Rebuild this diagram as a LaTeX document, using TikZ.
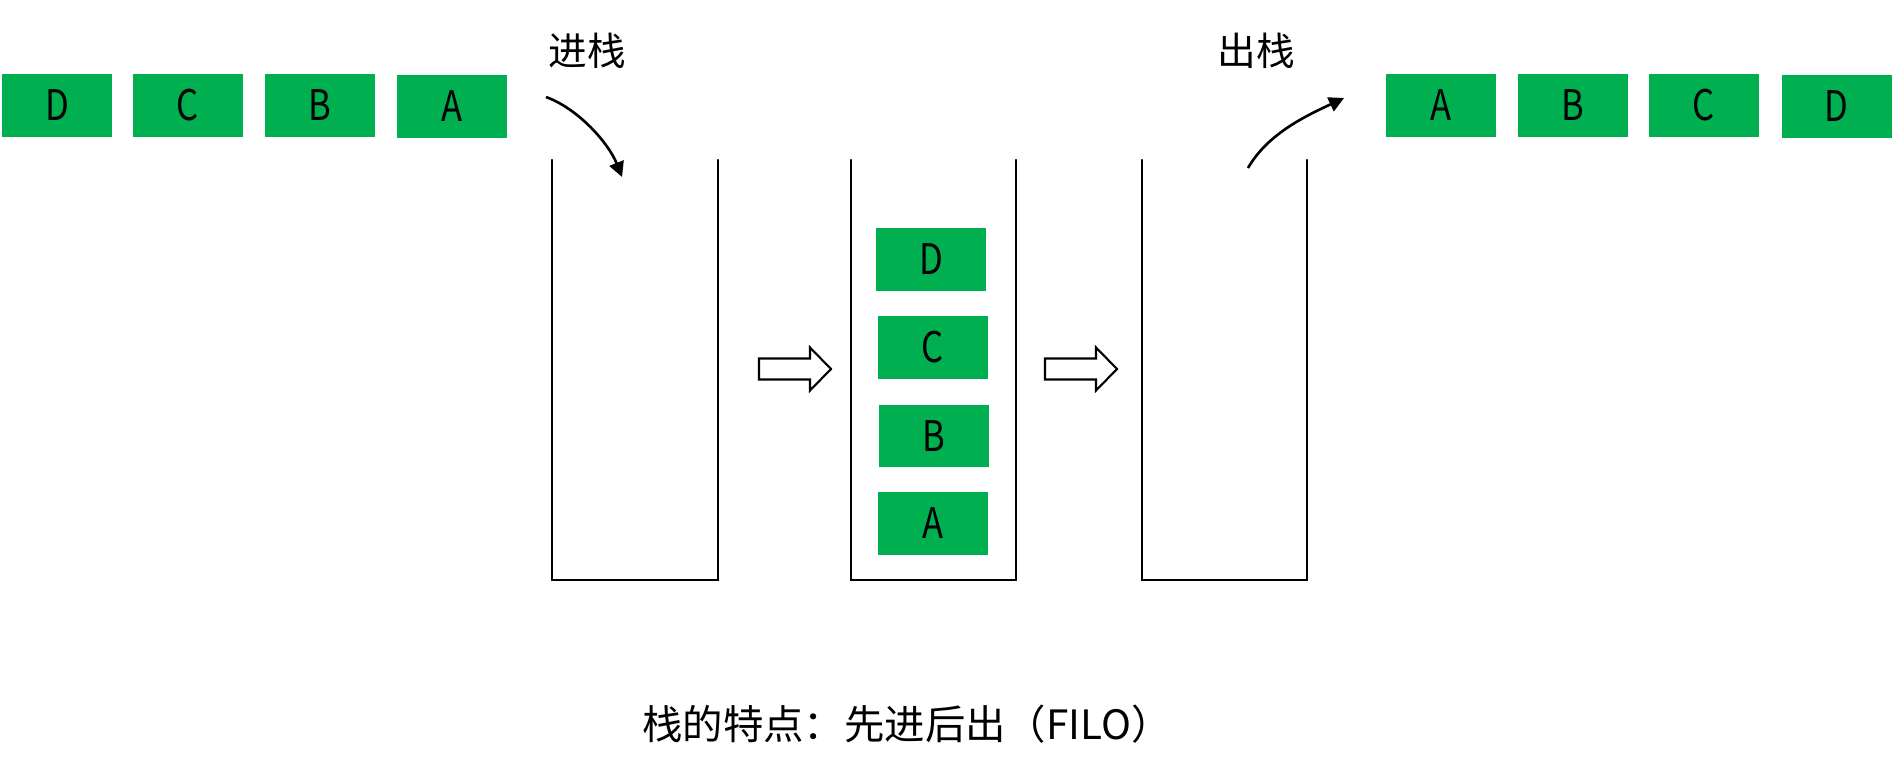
\documentclass[tikz,border=0pt]{standalone}
\usepackage{fontspec}
\setmainfont{Noto Sans CJK SC}
\newfontfamily\letterfont[FakeStretch=0.82]{Noto Sans CJK SC}
\usepackage{tikz}
\usetikzlibrary{arrows.meta}
\definecolor{stackgreen}{RGB}{0,176,80}
\tikzset{
    elem/.style={shape=rectangle, fill=stackgreen, minimum width=2.2cm, minimum height=1.26cm, inner sep=0pt, font=\letterfont\fontsize{24}{28}\selectfont},
    tag/.style={inner sep=0pt, font=\fontsize{22}{26}\selectfont},
    wall/.style={line width=1.2pt, line cap=round},
    flow/.style={line width=1.5pt, -{Triangle[length=0.3cm, width=0.3cm]}}}

\begin{document}
\begin{tikzpicture}[x=0.02cm, y=-0.02cm]

            \useasboundingbox (0,0) rectangle (1899,763);

            % waiting elements
            \node[elem] (d0) at (57,105.5) {D};
            \node[elem] (c0) at (188,105.5) {C};
            \node[elem] (b0) at (320,105.5) {B};
            \node[elem] (a0) at (452,106.5) {A};

            % stacks
            \foreach \l/\r in {552/718, 851/1016, 1142/1307}
                \draw[wall] (\l,160) -- (\l,580) -- (\r,580) -- (\r,160);

            % elements inside the stack
            \node[elem] (d1) at (931,259.5) {D};
            \node[elem] (c1) at (932.5,347.5) {C};
            \node[elem] (b1) at (934,436) {B};
            \node[elem] (a1) at (933,523.5) {A};

            % popped elements
            \node[elem] (a2) at (1440.5,105.5) {A};
            \node[elem] (b2) at (1572.5,105.5) {B};
            \node[elem] (c2) at (1704,105.5) {C};
            \node[elem] (d2) at (1836.5,106.5) {D};

            % block arrows
            \foreach \x in {759, 1045}
                \draw[line width=1.2pt] (\x,358.5) -- ++(51,0) -- ++(0,-11) -- ++(21,21.5)
                    -- ++(-21,21.5) -- ++(0,-11) -- ++(-51,0) -- cycle;

            \node[tag] (pushtxt) at (587,51) {进栈};
            \node[tag] (poptxt) at (1256,51) {出栈};

            \coordinate (pushs) at (546,97);
            \coordinate (pushe) at (622,177);
            \coordinate (pops) at (1248,168);
            \coordinate (pope) at (1344,98);

            \draw[flow] (pushs) .. controls (579,109) and (609,144) .. (pushe);
            \draw[flow] (pops) .. controls (1268,133) and (1308,115) .. (pope);

            \node[tag, font=\fontsize{23}{27}\selectfont] (caption) at (907,724) {栈的特点：先进后出（FILO）};

        \end{tikzpicture}
\end{document}
